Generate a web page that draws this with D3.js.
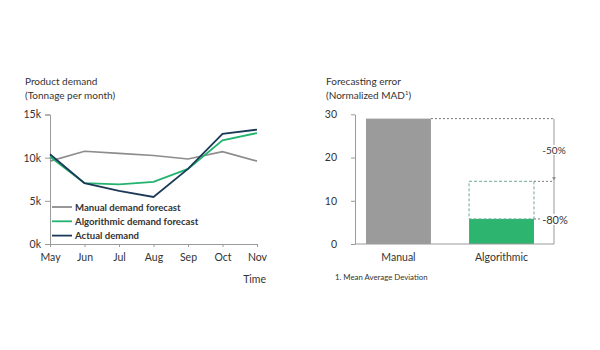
<!DOCTYPE html>
<html><head><meta charset="utf-8">
<script src="https://cdn.jsdelivr.net/npm/d3@7"></script>
<style>
body{margin:0;background:#fff;}
text{font-family:Lato,"Open Sans",sans-serif;fill:#333;}
</style></head><body>
<svg id="c" width="600" height="350"></svg>
<script>
const months = ["May","Jun","Jul","Aug","Sep","Oct","Nov"];
const manualForecast = [9.6,10.75,10.5,10.25,9.85,10.7,9.6];
const algoForecast = [10.1,7.05,6.9,7.2,8.7,12.0,12.85];
const actualDemand = [10.4,7.05,6.15,5.45,8.7,12.75,13.25];
const demandTicks = [0,5,10,15];
const seriesNames = ["Manual demand forecast","Algorithmic demand forecast","Actual demand"];
const errCategories = ["Manual","Algorithmic"];
const errValues = [29,5.8];
const halfTarget = 14.5;
const errTicks = [0,10,20,30];
const colors = ["#8c8c8c","#22b36f","#1b3a57"];

const svg = d3.select("#c");
const axisColor = "#9a9a9a";

// Left chart
const x1 = d3.scalePoint().domain(months).range([50,257]);
const y1 = d3.scaleLinear().domain([0,15]).range([244,114.5]);
const g1 = svg.append("g");
g1.append("text").attr("x",25).attr("y",85).attr("font-size",10).text("Product demand");
g1.append("text").attr("x",25).attr("y",99).attr("font-size",10).text("(Tonnage per month)");
const ax1 = g1.append("g").attr("transform","translate(0,244)").call(d3.axisBottom(x1).tickSize(3).tickPadding(7));
const ay1 = g1.append("g").attr("transform","translate(50,0)").call(d3.axisLeft(y1).tickValues(demandTicks).tickFormat(d=>d+"k").tickSize(5).tickPadding(4));
[ax1,ay1].forEach(a=>{a.selectAll("path,line").attr("stroke",axisColor);a.selectAll("text").attr("font-size",10.5).attr("fill","#333").style("font-family","Lato, sans-serif");});
g1.append("text").attr("x",266).attr("y",283).attr("text-anchor","end").attr("font-size",10.5).text("Time");
const line = d3.line().x((d,i)=>x1(months[i])).y(d=>y1(d));
[manualForecast,algoForecast,actualDemand].forEach((s,i)=>{
  g1.append("path").datum(s).attr("d",line).attr("fill","none").attr("stroke",colors[i]).attr("stroke-width",i===0?1.6:1.8);
});
seriesNames.forEach((n,i)=>{
  const yy = 207+i*14.3;
  g1.append("line").attr("x1",52).attr("x2",72).attr("y1",yy).attr("y2",yy).attr("stroke",colors[i]).attr("stroke-width",1.8);
  g1.append("text").attr("x",75).attr("y",yy+3.5).attr("font-size",9.6).attr("font-weight",700).attr("fill","#444").text(n);
});

// Right chart
const x2 = d3.scaleBand().domain(errCategories).range([355,545]).paddingInner(0.37).paddingOuter(0.107);
const y2 = d3.scaleLinear().domain([0,30]).range([244,114.3]);
const g2 = svg.append("g");
g2.append("text").attr("x",326).attr("y",85).attr("font-size",10).text("Forecasting error");
const t2 = g2.append("text").attr("x",326).attr("y",99).attr("font-size",10);
t2.append("tspan").text("(Normalized MAD");
t2.append("tspan").attr("font-size",6).attr("dy",-4).text("1");
t2.append("tspan").attr("dy",4).text(")");
g2.selectAll("rect.bar").data(errValues).join("rect").attr("class","bar")
  .attr("x",(d,i)=>x2(errCategories[i])).attr("width",x2.bandwidth())
  .attr("y",d=>y2(d)).attr("height",d=>y2(0)-y2(d))
  .attr("fill",(d,i)=>i===0?"#9b9b9b":"#2db46f");
const xr = 554;
const ax2 = g2.append("g").attr("transform","translate(0,244)").call(d3.axisBottom(x2).tickSize(0).tickPadding(10).tickSizeOuter(0));
ax2.select(".domain").remove();
g2.append("line").attr("x1",355).attr("x2",xr).attr("y1",244).attr("y2",244).attr("stroke",axisColor);
const ay2 = g2.append("g").attr("transform","translate(355,0)").call(d3.axisLeft(y2).tickValues(errTicks).tickSize(4).tickPadding(14).tickSizeOuter(0));
[ax2,ay2].forEach(a=>{a.selectAll("path,line").attr("stroke",axisColor);a.selectAll("text").attr("font-size",10.5).attr("fill","#333").style("font-family","Lato, sans-serif");});
// annotations
const xa = x2("Algorithmic"), xb = xa + x2.bandwidth();
g2.append("rect").attr("x",xa).attr("y",y2(halfTarget)).attr("width",x2.bandwidth()).attr("height",y2(errValues[1])-y2(halfTarget))
  .attr("fill","none").attr("stroke","#6aa995").attr("stroke-dasharray","3,2").attr("stroke-width",1);
g2.append("line").attr("x1",x2("Manual")+x2.bandwidth()).attr("x2",xr).attr("y1",y2(errValues[0])).attr("y2",y2(errValues[0]))
  .attr("stroke","#777").attr("stroke-dasharray","2,2").attr("stroke-width",1);
g2.append("line").attr("x1",xb).attr("x2",xr).attr("y1",y2(halfTarget)).attr("y2",y2(halfTarget))
  .attr("stroke","#777").attr("stroke-dasharray","2,2").attr("stroke-width",1);
g2.append("line").attr("x1",xb).attr("x2",xr).attr("y1",y2(errValues[1])).attr("y2",y2(errValues[1]))
  .attr("stroke","#777").attr("stroke-dasharray","2,2").attr("stroke-width",1);
g2.append("line").attr("x1",xr).attr("x2",xr).attr("y1",y2(errValues[0])).attr("y2",y2(0))
  .attr("stroke","#999").attr("stroke-width",1);
g2.append("path").attr("d",`M${xr-2},${y2(halfTarget)-4}L${xr+2},${y2(halfTarget)-4}L${xr},${y2(halfTarget)-1}Z`).attr("fill","#888");
const lab50 = g2.append("text").attr("x",xr).attr("y",y2((errValues[0]+halfTarget)/2)+4).attr("text-anchor","middle").attr("font-size",10).text("-50%");
const lab80 = g2.append("text").attr("x",xr+1).attr("y",y2(errValues[1])+5).attr("text-anchor","middle").attr("font-size",11).text("-80%");
[lab50,lab80].forEach(t=>{
  const b = t.node().getBBox();
  g2.insert("rect",()=>t.node()).attr("x",b.x-1).attr("y",b.y+1).attr("width",b.width+2).attr("height",b.height-2).attr("fill","#fff");
});
g2.append("text").attr("x",335).attr("y",280).attr("font-size",7.8).attr("fill","#555").text("1. Mean Average Deviation");
</script>
</body></html>
